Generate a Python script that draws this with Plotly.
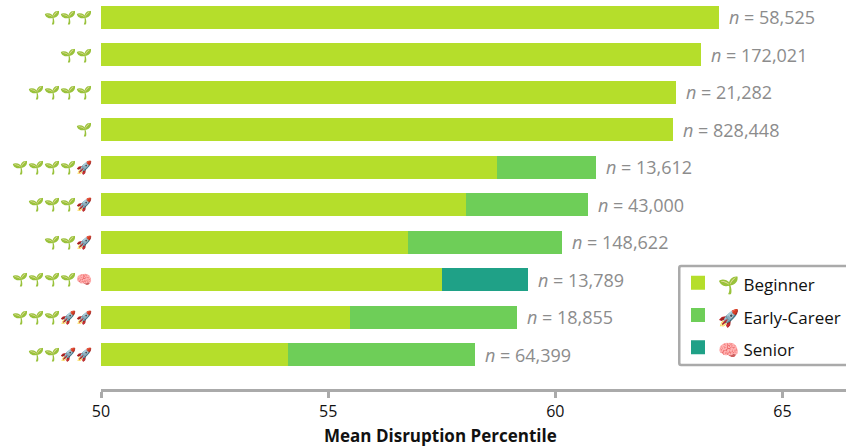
import plotly.graph_objects as go

S, R, B = "\U0001F331", "\U0001F680", "\U0001F9E0"
categories = [S*3, S*2, S*4, S, S*4+R, S*3+R, S*2+R, S*4+B, S*3+R*2, S*2+R*2]
beginner = [63.58, 63.18, 62.64, 62.58, 58.74, 58.06, 56.78, 57.53, 55.51, 54.14]
early = [None, None, None, None, 2.14, 2.64, 3.35, None, 3.63, 4.08]
senior = [None, None, None, None, None, None, None, 1.85, None, None]
counts = ["58,525", "172,021", "21,282", "828,448", "13,612", "43,000", "148,622", "13,789", "18,855", "64,399"]
totals = [b + (e or 0) + (s or 0) for b, e, s in zip(beginner, early, senior)]

FONT = "Open Sans, Noto Sans, sans-serif"
fig = go.Figure()
for name, vals, col in [(S + " Beginner", beginner, "#b5de2b"),
                        (R + " Early-Career", early, "#6ece58"),
                        (B + " Senior", senior, "#1fa187")]:
    fig.add_bar(y=categories, x=vals, name=f"<span style='font-size:17px'>{name}</span>", orientation="h",
                marker=dict(color=col, line=dict(color=col, width=2)), width=0.56)

for c, t, n in zip(categories, totals, counts):
    fig.add_annotation(x=t, y=c, text=f"<i>n</i> = {n}", showarrow=False, xanchor="left", xshift=9,
                       font=dict(size=18, color="#8c8c8c", family=FONT))

fig.add_annotation(xref="paper", yref="paper", x=0.4554, y=-0.1208, yanchor="middle", showarrow=False,
                   text="<b>Mean Disruption Percentile</b>", font=dict(size=17, color="#111111", family=FONT))

# rounded legend frame, running off the right edge as in the reference
fig.add_shape(type="path", xref="paper", yref="paper", layer="below",
              path="M 0.7787 0.3162 L 1.02 0.3162 L 1.02 0.0617 L 0.7787 0.0617 Q 0.7762 0.0617 0.7762 0.0668"
                   " L 0.7762 0.3111 Q 0.7762 0.3162 0.7787 0.3162 Z",
              line=dict(color="#aaaaaa", width=2.5), fillcolor="white")

fig.update_layout(
    width=846, height=448, barmode="stack", plot_bgcolor="white", paper_bgcolor="white",
    margin=dict(l=100.5, r=0, t=0, b=59), font=dict(family=FONT, size=16, color="#111111"),
    legend=dict(x=0.7748, xanchor="left", y=0.19, yanchor="middle", borderwidth=0,
                bgcolor="rgba(0,0,0,0)", font=dict(size=22.5), traceorder="normal", itemwidth=30),
    xaxis=dict(range=[50, 66.4], tickvals=[50, 55, 60, 65], showgrid=False, zeroline=False, showline=True,
               linecolor="#aaaaaa", linewidth=2.5, ticks="outside", tickcolor="#aaaaaa", tickwidth=2.5, ticklen=6,
               tickfont=dict(size=16)),
    yaxis=dict(type="category", categoryorder="array", categoryarray=categories, range=[9.92, -0.467],
               showgrid=False, zeroline=False, showline=False, ticks="", tickfont=dict(size=13), ticklabelstandoff=8),
)
fig.write_html("out.html", post_script="document.body.style.margin='0';", config=dict(displayModeBar=False))
